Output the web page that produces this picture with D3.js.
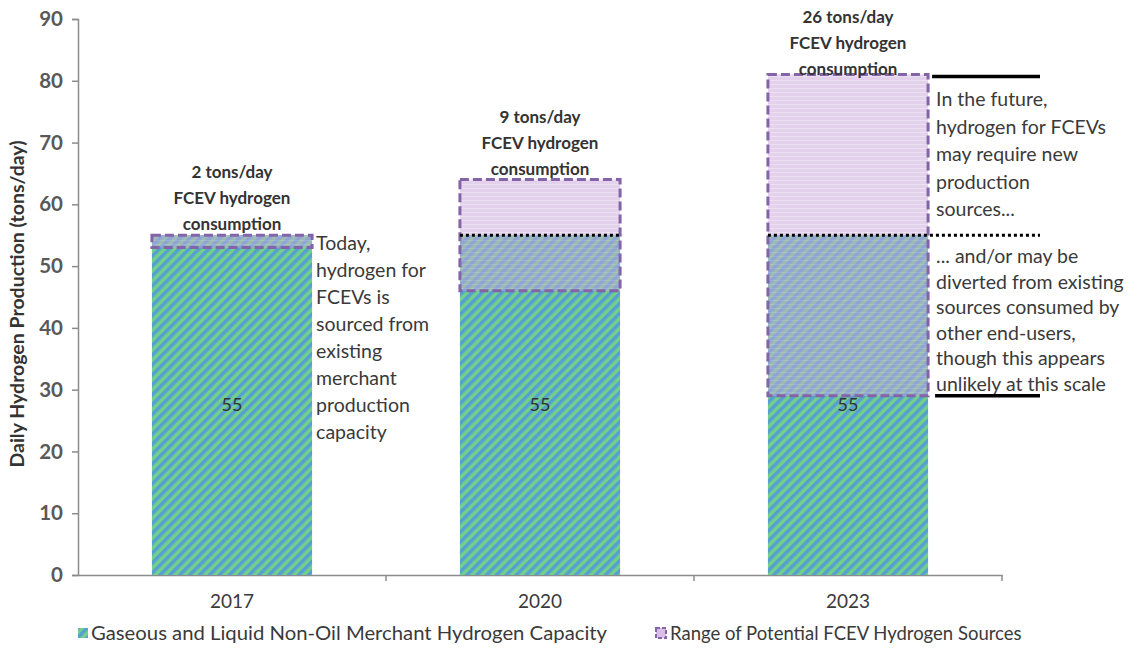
<!DOCTYPE html>
<html>
<head>
<meta charset="utf-8">
<script src="https://cdn.jsdelivr.net/npm/d3@7"></script>
<style>
  html, body { margin: 0; padding: 0; background: #fff; }
  svg { display: block; }
  text { font-family: Lato, "Open Sans", sans-serif; fill: #3a3a3a; }
</style>
</head>
<body>
<svg id="chart" width="1135" height="649"></svg>
<script>
// Years on the category axis
const years = ["2017", "2020", "2023"];
// Gaseous and liquid non-oil merchant hydrogen capacity (tons/day)
const capacity = [55, 55, 55];
// FCEV hydrogen consumption (tons/day)
const consumption = [2, 9, 26];
// Range of potential FCEV hydrogen sources (tons/day)
const rangeLow = [53, 46, 29];
const rangeHigh = [55, 64, 81];
// Value axis ticks
const yTicks = [0, 10, 20, 30, 40, 50, 60, 70, 80, 90];

// Side notes
const noteToday = ["Today,", "hydrogen for", "FCEVs is", "sourced from", "existing", "merchant", "production", "capacity"];
const noteFutureNew = ["In the future,", "hydrogen for FCEVs", "may require new", "production", "sources..."];
const noteFutureDivert = ["... and/or may be", "diverted from existing", "sources consumed by", "other end-users,", "though this appears", "unlikely at this scale"];

const legendItems = ["Gaseous and Liquid Non-Oil Merchant Hydrogen Capacity", "Range of Potential FCEV Hydrogen Sources"];

const svg = d3.select("#chart");
const plotLeft = 78, plotRight = 1002, plotTop = 19, plotBottom = 575;

const x = d3.scaleBand().domain(years).range([plotLeft, plotRight]).paddingInner(0.48).paddingOuter(0.24);
const y = d3.scaleLinear().domain([0, 90]).range([plotBottom, plotTop]);

// Patterns
const defs = svg.append("defs");
const hatch = defs.append("pattern").attr("id", "hatch")
  .attr("patternUnits", "userSpaceOnUse").attr("width", 7).attr("height", 7)
  .attr("patternTransform", "rotate(45)");
hatch.append("rect").attr("width", 7).attr("height", 7).attr("fill", "#72d08a");
hatch.append("rect").attr("width", 3.5).attr("height", 7).attr("fill", "#559fd2");

const lav = defs.append("pattern").attr("id", "lav")
  .attr("patternUnits", "userSpaceOnUse").attr("width", 4).attr("height", 4);
lav.append("rect").attr("width", 4).attr("height", 4).attr("fill", "#c9a6dc");
lav.append("rect").attr("width", 4).attr("height", 1).attr("fill", "#d8bfe6");

// Y axis
const yAxis = d3.axisLeft(y).tickValues(yTicks).tickSize(6).tickPadding(9);
const gy = svg.append("g").attr("transform", `translate(${plotLeft},0)`).call(yAxis);
gy.select(".domain").attr("stroke", "#8c8c8c").attr("stroke-width", 1.5);
gy.selectAll(".tick line").attr("stroke", "#8c8c8c").attr("stroke-width", 1.5);
gy.selectAll(".tick text").style("font-size", "20.5px").style("font-weight", "700")
  .style("fill", "#595959").attr("font-family", null);

// X axis (labels at band centres, ticks at band boundaries)
const xAxis = d3.axisBottom(x).tickSize(0).tickPadding(20);
const gx = svg.append("g").attr("transform", `translate(0,${plotBottom})`).call(xAxis);
gx.select(".domain").attr("stroke", "#8c8c8c").attr("stroke-width", 1.5);
gx.selectAll(".tick text").style("font-size", "19px").style("fill", "#3a3a3a").attr("font-family", null);
gx.selectAll(".boundary").data(years).join("line")
  .attr("x1", d => x(d) - x.step() * x.paddingOuter() + x.step())
  .attr("x2", d => x(d) - x.step() * x.paddingOuter() + x.step())
  .attr("y1", 0).attr("y2", 6).attr("stroke", "#8c8c8c").attr("stroke-width", 1.5);

// Y axis title
svg.append("text")
  .attr("transform", `translate(24,${(plotTop + plotBottom) / 2 + 7}) rotate(-90)`)
  .attr("text-anchor", "middle")
  .style("font-size", "19.5px").style("font-weight", "700").style("fill", "#333")
  .text("Daily Hydrogen Production (tons/day)");

// Capacity bars
svg.selectAll(".cap").data(years).join("rect")
  .attr("x", d => x(d)).attr("width", x.bandwidth())
  .attr("y", (d, i) => y(capacity[i]))
  .attr("height", (d, i) => y(0) - y(capacity[i]))
  .attr("fill", "url(#hatch)");

svg.selectAll(".capLabel").data(years).join("text")
  .attr("x", d => x(d) + x.bandwidth() / 2)
  .attr("y", (d, i) => y(capacity[i] / 2) + 6)
  .attr("text-anchor", "middle")
  .style("font-size", "18px").style("fill", "#333")
  .text((d, i) => capacity[i]);

// Range boxes
svg.selectAll(".range").data(years).join("rect")
  .attr("x", d => x(d)).attr("width", x.bandwidth())
  .attr("y", (d, i) => y(rangeHigh[i]))
  .attr("height", (d, i) => y(rangeLow[i]) - y(rangeHigh[i]))
  .attr("fill", "url(#lav)").attr("fill-opacity", 0.5)
  .attr("stroke", "#8464a8").attr("stroke-width", 3).attr("stroke-dasharray", "9,4");

// Consumption labels above the boxes
years.forEach((yr, i) => {
  const lines = [`${consumption[i]} tons/day`, "FCEV hydrogen", "consumption"];
  const firstBase = Math.max(23, y(rangeHigh[i]) - 5 - 2 * 26);
  svg.append("text")
    .attr("text-anchor", "middle")
    .style("font-size", "17px").style("font-weight", "700").style("fill", "#333")
    .selectAll("tspan").data(lines).join("tspan")
    .attr("x", x(yr) + x.bandwidth() / 2)
    .attr("y", (d, k) => firstBase + k * 26)
    .text(d => d);
});

// Capacity level markers (dotted) where the range straddles capacity
const straddle = years.filter((yr, i) => rangeHigh[i] > capacity[i]);
const farRight = 1040;
svg.selectAll(".capLine").data(straddle).join("line")
  .attr("x1", d => x(d))
  .attr("x2", d => d === "2023" ? farRight : x(d) + x.bandwidth() + 2)
  .attr("y1", d => y(capacity[years.indexOf(d)]))
  .attr("y2", d => y(capacity[years.indexOf(d)]))
  .attr("stroke", "#000").attr("stroke-width", 3).attr("stroke-dasharray", "3,3");

// Solid brackets for the 2023 range
const i23 = years.indexOf("2023");
const bx = x("2023") + x.bandwidth();
svg.append("line").attr("x1", bx + 4).attr("x2", farRight)
  .attr("y1", y(rangeHigh[i23]) + 2).attr("y2", y(rangeHigh[i23]) + 2)
  .attr("stroke", "#000").attr("stroke-width", 3.5);
svg.append("line").attr("x1", bx + 7).attr("x2", farRight)
  .attr("y1", y(rangeLow[i23])).attr("y2", y(rangeLow[i23]))
  .attr("stroke", "#000").attr("stroke-width", 3.5);

// Side notes
function note(lines, x0, y0, dy) {
  svg.append("text").style("font-size", "19.5px").style("fill", "#3a3a3a")
    .selectAll("tspan").data(lines).join("tspan")
    .attr("x", x0).attr("y", (d, k) => y0 + k * dy).text(d => d);
}
note(noteToday, x("2017") + x.bandwidth() + 4, 250, 27);
note(noteFutureNew, bx + 8, 106, 27.5);
note(noteFutureDivert, bx + 8, 263, 25.5);

// Legend
const lg = svg.append("g");
lg.append("rect").attr("x", 78).attr("y", 628).attr("width", 10).attr("height", 10).attr("fill", "url(#hatch)");
lg.append("text").attr("x", 91).attr("y", 640).style("font-size", "18.5px").style("fill", "#3a3a3a")
  .attr("textLength", 516).attr("lengthAdjust", "spacingAndGlyphs").text(legendItems[0]);
lg.append("rect").attr("x", 656).attr("y", 628).attr("width", 10).attr("height", 10)
  .attr("fill", "#d9bfe6").attr("stroke", "#8464a8").attr("stroke-width", 2).attr("stroke-dasharray", "4,2");
lg.append("text").attr("x", 670).attr("y", 640).style("font-size", "18.5px").style("fill", "#3a3a3a").text(legendItems[1]);
</script>
</body>
</html>
